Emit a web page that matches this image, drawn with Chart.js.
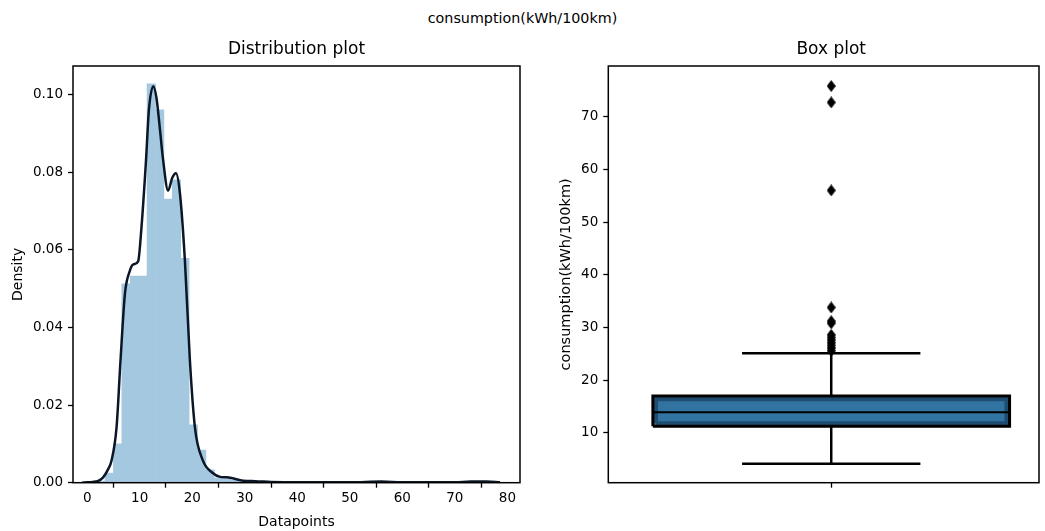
<!DOCTYPE html>
<html><head><meta charset="utf-8">
<script src="https://cdn.jsdelivr.net/npm/chart.js@4.4.1/dist/chart.umd.min.js"></script>
<style>
html,body{margin:0;padding:0;background:#fff;overflow:hidden;width:1045px;height:531px}
#sup{position:absolute;left:0;top:10px;width:1045px;text-align:center;font-family:'DejaVu Sans';font-size:14.3px;line-height:16px;color:#000}
#c1{position:absolute;left:0;top:0}
#c2{position:absolute;left:540px;top:0}
</style></head><body>
<div id="sup">consumption(kWh/100km)</div>
<canvas id="c1" width="540" height="531"></canvas>
<canvas id="c2" width="505" height="531"></canvas>
<script>
// ---- Distribution plot data ----
const histBinCenters = [2.6, 4.2, 5.8, 7.4, 9.0, 10.6, 12.2, 13.8, 15.4, 17.0, 18.6, 20.2, 21.8, 23.4, 25.0, 26.6, 28.2, 29.8, 31.4, 33.0, 34.6, 36.2, 37.8, 39.4, 41.0, 42.6, 44.2, 45.8, 47.4, 49.0, 50.6, 52.2, 53.8, 55.4, 57.0, 58.6, 60.2, 61.8, 63.4, 65.0, 66.6, 68.2, 69.8, 71.4, 73.0, 74.6, 76.2, 77.8];
const histDensity = [0.0004, 0.0025, 0.0100, 0.0512, 0.0532, 0.0532, 0.1027, 0.0960, 0.0730, 0.0780, 0.0578, 0.0149, 0.0084, 0.0033, 0.0012, 0.0010, 0.0006, 0.0003, 0.0004, 0.0002, 0.0001, 0, 0, 0, 0, 0, 0, 0, 0, 0, 0, 0, 0, 0.0001, 0, 0, 0, 0, 0, 0, 0, 0, 0, 0, 0.0001, 0, 0.0001, 0];
const kdeX = [-1.0, 0, 1, 2, 3, 4, 4.6, 5.6, 6.35, 7.2, 8.1, 8.8, 9.7, 10.35, 11.2, 11.75, 12.6, 13.2, 13.8, 14.45, 15.4, 16.2, 16.9, 17.65, 18.6, 19.55, 20.5, 22.0, 23.9, 25.3, 26.5, 27.5, 29.7, 32, 35, 40, 50, 56, 60, 70, 73, 76, 78.6];
const kdeDensity = [0.0000, 0.0001, 0.0002, 0.0004, 0.0013, 0.0035, 0.0055, 0.0144, 0.0316, 0.0488, 0.0545, 0.0562, 0.0570, 0.0660, 0.0830, 0.0960, 0.1021, 0.0990, 0.0917, 0.0832, 0.0752, 0.0785, 0.0797, 0.0746, 0.0573, 0.0316, 0.0144, 0.0058, 0.0025, 0.0015, 0.0014, 0.0012, 0.0005, 0.0004, 0.0002, 0.0001, 0.0001, 0.0003, 0.0001, 0.0001, 0.0003, 0.0003, 0.0001];
const distXTicks = [0, 10, 20, 30, 40, 50, 60, 70, 80];
const distYTicks = [0.00, 0.02, 0.04, 0.06, 0.08, 0.10];

// ---- Box plot data ----
const boxQuartiles = [11.25, 13.9, 17.0];   // Q1, median, Q3
const boxWhiskers = [4.15, 25.1];          // low, high
const boxOutliers = [75.8, 72.7, 56.0, 33.8, 31.2, 30.8, 28.6, 28.1, 27.6, 27.1, 26.6, 26.1, 25.6];
const boxYTicks = [10, 20, 30, 40, 50, 60, 70];
const boxXTicks = [0];

const FONT = 'DejaVu Sans';

const frame = {
  id: 'frame',
  afterDatasetsDraw(chart) {
    const {ctx, chartArea: a} = chart;
    ctx.save();
    ctx.strokeStyle = '#000';
    ctx.lineWidth = 1.5;
    ctx.strokeRect(a.left, a.top, a.right - a.left, a.bottom - a.top);
    ctx.restore();
  }
};

// axes title centred over the axes (like matplotlib's ax.set_title)
const axesTitle = {
  id: 'axesTitle',
  afterDraw(chart, args, opts) {
    const {ctx, chartArea: a} = chart;
    const x = opts.centerValue !== undefined ? chart.scales.x.getPixelForValue(opts.centerValue) : (a.left + a.right) / 2;
    ctx.save();
    ctx.font = 'normal ' + opts.size + 'px "' + FONT + '"';
    ctx.fillStyle = '#000';
    ctx.textAlign = 'center';
    ctx.textBaseline = 'middle';
    ctx.fillText(opts.text, x, a.top - opts.gap);
    ctx.restore();
  }
};

const tickGrid = {display: true, drawOnChartArea: false, drawTicks: true, tickLength: 5, tickColor: '#000', tickWidth: 1.3};

// ---------- Distribution plot ----------
new Chart(document.getElementById('c1'), {
  type: 'bar',
  data: {
    datasets: [
      {
        type: 'line',
        data: kdeX.map((x, i) => ({x: x, y: kdeDensity[i]})),
        borderColor: '#0b1726',
        borderWidth: 2.5,
        pointRadius: 0,
        cubicInterpolationMode: 'monotone',
        fill: false,
        order: 0
      },
      {
        type: 'bar',
        data: histBinCenters.map((x, i) => ({x: x, y: histDensity[i]})),
        backgroundColor: '#a5c8e1',
        borderWidth: 0,
        barPercentage: 1,
        categoryPercentage: 1,
        order: 1
      }
    ]
  },
  options: {
    responsive: false, animation: false, devicePixelRatio: 1,
    layout: {padding: {left: 0, right: 20, top: 66, bottom: 0}},
    plugins: {
      legend: {display: false}, tooltip: {enabled: false}, title: {display: false},
      axesTitle: {text: 'Distribution plot', size: 17, gap: 16}
    },
    scales: {
      x: {
        type: 'linear', min: -2.7, max: 82.4, offset: false,
        afterBuildTicks: s => { s.ticks = distXTicks.map(v => ({value: v})); },
        afterFit: s => { s.height = 48.3; },
        grid: tickGrid, border: {display: false},
        ticks: {color: '#000', font: {family: FONT, size: 13.5}, padding: 3, maxRotation: 0, autoSkip: false},
        title: {display: true, text: 'Datapoints', color: '#000', font: {family: FONT, size: 14}, padding: {top: 2.6, bottom: 0}}
      },
      y: {
        type: 'linear', min: 0, max: 0.1073,
        afterBuildTicks: s => { s.ticks = distYTicks.map(v => ({value: v})); },
        afterFit: s => { s.width = 73; },
        grid: tickGrid, border: {display: false},
        ticks: {color: '#000', font: {family: FONT, size: 13.5}, padding: 5, callback: v => Number(v).toFixed(2)},
        title: {display: true, text: 'Density', color: '#000', font: {family: FONT, size: 14}, padding: {top: 9.6, bottom: 0}}
      }
    }
  },
  plugins: [frame, axesTitle]
});

// ---------- Box plot ----------
const diamond = document.createElement('canvas');
diamond.width = 9; diamond.height = 12;
(function () {
  const c = diamond.getContext('2d');
  c.fillStyle = '#000';
  c.beginPath();
  c.moveTo(4.5, 0); c.lineTo(9, 6); c.lineTo(4.5, 12); c.lineTo(0, 6); c.closePath();
  c.fill();
})();

const [q1, med, q3] = boxQuartiles;
const [wLo, wHi] = boxWhiskers;
const boxHalf = 0.4, capHalf = 0.2;
const insetX = 0.007, insetY = 0.6;
const boxOutline = [{x: -boxHalf, y: q1}, {x: boxHalf, y: q1}, {x: boxHalf, y: q3}, {x: -boxHalf, y: q3}, {x: -boxHalf, y: q1}];
const boxInner = [{x: -boxHalf + insetX, y: q1 + insetY}, {x: boxHalf - insetX, y: q1 + insetY}, {x: boxHalf - insetX, y: q3 - insetY}, {x: -boxHalf + insetX, y: q3 - insetY}, {x: -boxHalf + insetX, y: q1 + insetY}];
const lineDs = (data, color, width, extra) => Object.assign({data, showLine: true, borderColor: color, borderWidth: width, pointRadius: 0, fill: false, borderCapStyle: 'butt'}, extra || {});

new Chart(document.getElementById('c2'), {
  type: 'scatter',
  data: {
    datasets: [
      {data: boxOutliers.map(y => ({x: 0, y: y})), pointStyle: diamond, pointRadius: 5, showLine: false},
      lineDs([{x: -boxHalf, y: med}, {x: boxHalf, y: med}], '#000', 2),
      lineDs(boxOutline, '#000', 3),
      lineDs(boxInner, 'rgba(6,30,56,0.45)', 4),
      lineDs([{x: 0, y: q1}, {x: 0, y: wLo}], '#000', 2.5),
      lineDs([{x: 0, y: q3}, {x: 0, y: wHi}], '#000', 2.5),
      lineDs([{x: -capHalf, y: wLo}, {x: capHalf, y: wLo}], '#000', 2.5),
      lineDs([{x: -capHalf, y: wHi}, {x: capHalf, y: wHi}], '#000', 2.5),
      lineDs([{x: -boxHalf, y: q3}, {x: boxHalf, y: q3}], 'rgba(0,0,0,0)', 0, {fill: {value: q1}, backgroundColor: '#3274a1'})
    ]
  },
  options: {
    responsive: false, animation: false, devicePixelRatio: 1,
    layout: {padding: {left: 0, right: 5, top: 66, bottom: 0}},
    plugins: {
      legend: {display: false}, tooltip: {enabled: false}, title: {display: false},
      axesTitle: {text: 'Box plot', size: 17, gap: 16, centerValue: 0}
    },
    scales: {
      x: {
        type: 'linear', min: -0.5, max: 0.466, offset: false,
        afterBuildTicks: s => { s.ticks = boxXTicks.map(v => ({value: v})); },
        afterFit: s => { s.height = 48.3; },
        grid: tickGrid, border: {display: false},
        ticks: {color: '#000', font: {family: FONT, size: 13.5}, padding: 3, callback: () => ''}
      },
      y: {
        type: 'linear', min: 0.56, max: 79.6,
        afterBuildTicks: s => { s.ticks = boxYTicks.map(v => ({value: v})); },
        afterFit: s => { s.width = 68.3; },
        grid: tickGrid, border: {display: false},
        ticks: {color: '#000', font: {family: FONT, size: 13.5}, padding: 5, callback: v => String(v)},
        title: {display: true, text: 'consumption(kWh/100km)', color: '#000', font: {family: FONT, size: 14.5}, padding: {top: 17.3, bottom: 0}}
      }
    }
  },
  plugins: [frame, axesTitle]
});
</script>
</body></html>
